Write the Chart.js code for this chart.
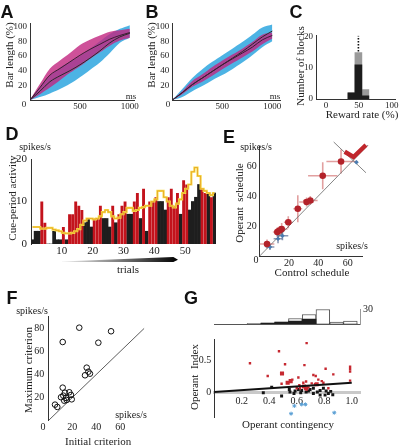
<!DOCTYPE html>
<html>
<head>
<meta charset="utf-8">
<script src="https://cdn.jsdelivr.net/npm/chart.js@4.4.0/dist/chart.umd.min.js"></script>
<style>
  body { margin: 0; background: #fff; }
  #fig { position: relative; width: 401px; height: 446px; overflow: hidden; font-family: 'Liberation Serif', 'Times New Roman', serif; color: #222; }
  #fig canvas { position: absolute; }
  .lbl { position: absolute; white-space: pre; text-align: center; }
  .rot { transform: rotate(-90deg); }
  .pl { font-family: 'Liberation Sans', Arial, sans-serif; font-weight: bold; font-size: 18px; color: #111; }
  .wedge { position: absolute; left: 62px; top: 257px; width: 116px; height: 5px;
    background: linear-gradient(to right, #f2f2f2, #000);
    clip-path: polygon(0 88%, 96% 0, 100% 55%, 96% 100%, 0 100%); }
</style>
</head>
<body>
<div id="fig">
  <canvas id="cA" width="140" height="115" style="left:0;top:0"></canvas>
  <canvas id="cB" width="145" height="115" style="left:140px;top:0"></canvas>
  <canvas id="cC" width="116" height="115" style="left:285px;top:0"></canvas>
  <canvas id="cD" width="220" height="120" style="left:0;top:140px"></canvas>
  <canvas id="cE" width="186" height="140" style="left:215px;top:135px"></canvas>
  <canvas id="cF" width="150" height="146" style="left:0;top:300px"></canvas>
  <canvas id="cGh" width="206" height="33" style="left:195px;top:300px"></canvas>
  <canvas id="cG" width="206" height="100" style="left:195px;top:330px"></canvas>
  <div class="wedge"></div>
</div>
<script>
// ---- A / B: bar length over time (ms) ----
const msX = [0, 100, 200, 300, 400, 500, 600, 700, 800, 900, 1000];
const aMagUp = [0, 22, 43, 54, 64, 75, 82, 88, 93, 95, 97];
const aMagLo = [0, 8, 17, 27, 37, 46, 56, 65, 74, 81, 85];
const aMagMean = [0, 17, 34, 43, 52, 61, 69, 76, 83, 88, 92];
const aBlueUp = [0, 18, 33, 44, 52, 60, 70, 80, 90, 97, 102];
const aBlueLo = [0, 4, 9, 15, 22, 31, 41, 51, 64, 78, 85];
const aBlueMean = [0, 12, 25, 33, 40, 48, 57, 67, 78, 86, 91];

const bBlueUp = [0, 15, 30, 42, 52, 61, 70, 79, 89, 99, 103];
const bBlueLo = [0, 4, 12, 19, 27, 34, 42, 51, 61, 72, 80];
const bMagUp = [0, 12, 26, 35, 45, 54, 62, 70, 79, 89, 92];
const bMagLo = [0, 8, 18, 25, 33, 42, 50, 58, 66, 76, 84];
const bBlueMean = [0, 10, 21, 30, 39, 48, 57, 66, 76, 86, 94];
const bMagMean = [0, 10, 21, 30, 39, 48, 56, 64, 72, 82, 88];

// ---- C: reward rate histogram ----
const cBins = [38.8, 49.4, 60];
const cAll = [2, 15, 3];
const cBlack = [2, 11, 1];
const cDotX = [49.4, 49.4];
const cDotY = [15.3, 20.4];

// ---- D: cue-period activity per trial ----
const dTrial = [1,2,3,4,5,6,7,8,9,10,11,12,13,14,15,16,17,18,19,20,21,22,23,24,25,26,27,28,29,30,
  31,32,33,34,35,36,37,38,39,40,41,42,43,44,45,46,47,48,49,50,51,52,53,54,55,56,57,58,59,60];
const dAct = [1,3,3,10,5,0,0,3,1,1,4,1,7,7,10,9,8,5,6,4,6,6,9,6,6,4,9,5,7,9,
  10,7,7,10,12,6,13,3,10,10,11,10,10,8,11,13,9,12,7,15,14,8,10,11,14,13,12,12,11,12];
const dRewarded = [0,0,0,1,1,0,0,0,0,0,1,0,1,1,1,1,1,0,0,0,1,1,1,0,0,0,1,0,1,1,
  1,0,0,1,1,0,1,0,1,1,1,0,0,0,1,1,1,1,0,1,1,0,0,0,0,1,1,0,1,0];
const dCrit = [4,4,4,3.6,3.6,3.8,3.8,3.4,3.2,3,2.6,2.5,2.5,2.6,3,3.5,4.5,5.5,6,6,5.8,6,6.5,7.5,8,7.5,6.5,6,6.2,7,
  7.5,8.5,8.5,7.8,8,8.5,8.7,9,9,10,10.5,12.5,12.5,11,10,9,8.6,9.5,10.5,12,13,14,17,18,16,13,12.5,12,11.5,12];

// ---- E: operant vs control schedule ----
const eX = [5, 12, 13.5, 15, 19.5, 26, 32, 34.5, 43, 55.5];
const eY = [8, 16, 17, 18, 22.5, 31.5, 36, 37, 53.5, 63];
const eXerr = [5, 3, 3, 4, 3, 3, 5, 5, 10, 10];
const eYerr = [3, 3, 3, 4, 4, 9, 3, 3, 9, 8];
const eBlueX = [7, 12.5, 15.5, 66];
const eBlueY = [6, 11.5, 13.5, 62.5];
const eBlueXerr = [3, 3, 4, 1];
const eBlueYerr = [2, 3, 3, 1];
const eCheckX = [58, 64, 72.5];
const eCheckY = [69.5, 66, 74];
const eIdX = [0, 74];
const eIdY = [0, 74];
const ePerpX = [50.5, 72.5];
const ePerpY = [76, 55.5];

// ---- F: initial vs maximum criterion ----
const fX = [25.8, 52.3, 12, 41.7, 32, 33.4, 30.6, 34.7, 12, 13.9, 17.5, 10.6, 12.5, 14.8, 13.3, 15.3, 18.9, 19.5, 5.6, 7.5];
const fY = [80.5, 77.4, 68.1, 67.5, 45.9, 42.4, 39.3, 40.7, 28.6, 24.2, 24.6, 20.3, 21.7, 19.7, 17.3, 17.9, 22.3, 18.5, 13.9, 11.9];
const fIdX = [0, 80];
const fIdY = [0, 80];

// ---- G: operant index vs contingency ----
const gBin = [0.29, 0.39, 0.49, 0.59, 0.69, 0.79, 0.89, 0.99];
const gHistAll = [1, 2, 4, 11, 19, 29, 4, 6];
const gHistBlack = [0, 2, 4, 6, 10, 0, 0, 0];
const gRedX = [0.672, 0.471, 0.26, 0.515, 0.656, 0.389, 0.81, 0.988, 0.988, 0.988, 0.988, 0.866, 0.721, 0.738, 0.612,
  0.49, 0.568, 0.648, 0.668, 0.757, 0.782, 0.794, 0.709, 0.619, 0.648, 0.685, 0.733, 0.6, 0.624, 0.83, 0.672];
const gRedY = [0.775, 0.647, 0.456, 0.44, 0.426, 0.255, 0.368, 0.4, 0.363, 0.324, 0.181, 0.279, 0.27, 0.255, 0.23,
  0.132, 0.196, 0.147, 0.167, 0.196, 0.172, 0.147, 0.137, 0.108, 0.088, 0.074, 0.123, 0.059, 0.059, 0.059, 0.039];
const gRedBigX = [0.493, 0.534, 0.556, 0.653, 0.668, 0.745];
const gRedBigY = [0.294, 0.147, 0.172, 0.088, 0.059, 0.123];
const gBlackX = [0.357, 0.418, 0.49, 0.546, 0.551, 0.588, 0.612, 0.636, 0.668, 0.697, 0.721, 0.75, 0.77, 0.794,
  0.814, 0.83, 0.847, 0.862, 0.721, 0.77, 0.806, 0.629, 0.58, 0.685];
const gBlackY = [-0.01, 0.074, -0.064, 0.039, 0, 0.015, 0.039, 0.025, 0, 0.039, 0.059, 0, 0.025, 0.059,
  0.015, -0.025, 0.01, -0.044, -0.025, -0.049, -0.049, -0.01, -0.025, 0.015];
const gBlueX = [0.583, 0.636, 0.663, 0.559, 0.873];
const gBlueY = [-0.22, -0.196, -0.196, -0.343, -0.328];
const gFitX = [0, 1.0];
const gFitY = [0, 0.145];

const FONT = "'Liberation Serif', 'Times New Roman', serif";
const BLUE = 'rgba(62, 172, 226, 0.92)';
const MAG = 'rgba(194, 38, 128, 0.8)';

const pts = (xs, ys) => xs.map((x, i) => ({ x: x, y: ys[i] }));

// axis with fixed box size so the plot areas line up with the figure
function ax(o) {
  const a = {
    type: 'linear', min: o.min, max: o.max, offset: false,
    grid: { display: false, drawTicks: false },
    border: { display: o.line !== false, color: o.color || '#333', width: o.bw || 1 },
    ticks: {
      font: { family: FONT, size: o.fs || 9 }, color: '#222',
      padding: o.pad == null ? 2 : o.pad, autoSkip: false, maxRotation: 0,
      callback: o.fmt || (v => String(v))
    },
    afterBuildTicks: s => { s.ticks = (o.ticks || []).map(v => ({ value: v })); },
    afterFit: s => { if (s.isHorizontal()) s.height = o.size; else s.width = o.size; }
  };
  if (o.position) a.position = o.position;
  return a;
}

function opts(pad, scales) {
  return {
    responsive: false, animation: false, events: [],
    layout: { autoPadding: false, padding: pad },
    plugins: { legend: { display: false }, tooltip: { enabled: false } },
    scales: scales
  };
}

function bandSets(xs, m1, m2, u1, l1, u2, l2) {
  const ln = (ys, c) => ({ data: pts(xs, ys), borderColor: c, borderWidth: 1, pointRadius: 0, tension: 0.35, fill: false });
  const edge = (ys, fill, bg) => ({ data: pts(xs, ys), borderColor: 'rgba(0,0,0,0)', borderWidth: 1, pointRadius: 0,
    tension: 0.35, fill: fill, backgroundColor: bg });
  return [ln(m1, '#3a1f33'), ln(m2, '#2a2a2a'), edge(u1, '+1', MAG), edge(l1, false), edge(u2, '+1', BLUE), edge(l2, false)];
}

// error crosses for panel E
const errorBars = {
  id: 'errorBars',
  beforeDatasetsDraw(chart) {
    const ctx = chart.ctx, xs = chart.scales.x, ys = chart.scales.y;
    chart.data.datasets.forEach(ds => {
      if (!ds.errX) return;
      ctx.save();
      ctx.strokeStyle = ds.errColor;
      ctx.lineWidth = 1.6;
      ds.data.forEach((p, i) => {
        const px = xs.getPixelForValue(p.x), py = ys.getPixelForValue(p.y);
        ctx.beginPath();
        ctx.moveTo(xs.getPixelForValue(p.x - ds.errX[i]), py);
        ctx.lineTo(xs.getPixelForValue(p.x + ds.errX[i]), py);
        ctx.moveTo(px, ys.getPixelForValue(p.y - ds.errY[i]));
        ctx.lineTo(px, ys.getPixelForValue(p.y + ds.errY[i]));
        ctx.stroke();
      });
      ctx.restore();
    });
  }
};

// A
new Chart(document.getElementById('cA'), {
  type: 'line',
  data: { datasets: bandSets(msX, aMagMean, aBlueMean, aMagUp, aMagLo, aBlueUp, aBlueLo) },
  options: opts({ top: 23, left: 0, right: 3, bottom: 0 }, {
    x: ax({ min: 0, max: 1050, size: 15, ticks: [500, 1000], pad: 1 }),
    y: ax({ min: 0, max: 105, size: 30, ticks: [20, 40, 60, 80, 100], pad: 3 })
  })
});

// B
new Chart(document.getElementById('cB'), {
  type: 'line',
  data: { datasets: bandSets(msX, bMagMean, bBlueMean, bMagUp, bMagLo, bBlueUp, bBlueLo) },
  options: opts({ top: 23, left: 0, right: 4.7, bottom: 0 }, {
    x: ax({ min: 0, max: 1080, size: 15, ticks: [500, 1000], pad: 1 }),
    y: ax({ min: 0, max: 105, size: 32.3, ticks: [20, 40, 60, 80, 100], pad: 3 })
  })
});

// C
new Chart(document.getElementById('cC'), {
  type: 'bar',
  data: {
    datasets: [
      { type: 'line', data: pts(cDotX, cDotY), borderColor: '#111', borderWidth: 1.6, borderDash: [1.5, 1.5], pointRadius: 0 },
      { data: pts(cBins, cBlack), backgroundColor: '#1c1c1c', grouped: false, barPercentage: 1, categoryPercentage: 1 },
      { data: pts(cBins, cAll), backgroundColor: '#9a9a9a', grouped: false, barPercentage: 1, categoryPercentage: 1 }
    ]
  },
  options: opts({ top: 35.4, left: 0, right: 6, bottom: 0 }, {
    x: ax({ min: -15, max: 105, size: 16, ticks: [0, 50, 100], pad: 1 }),
    y: ax({ min: 0, max: 20.5, size: 31, ticks: [0, 10, 20], pad: 3 })
  })
});

// D
const dX = dTrial.map(t => t - 0.5);
new Chart(document.getElementById('cD'), {
  type: 'bar',
  data: {
    datasets: [
      { type: 'line', data: pts(dX, dCrit), stepped: 'middle', borderColor: '#e59a1c', borderWidth: 0.7, pointRadius: 0 },
      { type: 'line', data: pts(dX, dCrit), stepped: 'middle', borderColor: '#f6dc4a', borderWidth: 2.2, pointRadius: 0 },
      { data: pts(dX, dAct.map((v, i) => dRewarded[i] ? v : null)), backgroundColor: '#c3131c',
        grouped: false, barPercentage: 0.94, categoryPercentage: 1 },
      { data: pts(dX, dAct.map((v, i) => dRewarded[i] ? null : v)), backgroundColor: '#1e1e1e',
        grouped: false, barPercentage: 1, categoryPercentage: 1 }
    ]
  },
  options: opts({ top: 19, left: 0, right: 4, bottom: 0 }, {
    x: ax({ min: 0, max: 60, size: 16, ticks: [10, 20, 30, 40, 50], fs: 11, pad: 1, line: false }),
    y: ax({ min: 0, max: 20, size: 31, ticks: [0, 10, 20], fs: 11, pad: 4 })
  })
});

// E
new Chart(document.getElementById('cE'), {
  type: 'scatter',
  data: {
    datasets: [
      { data: pts(eCheckX, eCheckY), showLine: true, borderColor: '#c0262c', borderWidth: 4.5, pointRadius: 0, clip: false },
      { data: pts(eX, eY), errX: eXerr, errY: eYerr, errColor: 'rgba(214,120,120,0.7)',
        pointRadius: 3.3, backgroundColor: '#b3222a', borderWidth: 0 },
      { data: pts(eBlueX, eBlueY), errX: eBlueXerr, errY: eBlueYerr, errColor: 'rgba(90,110,150,0.7)',
        pointStyle: 'rectRot', pointRadius: 2.3, backgroundColor: '#4a7cb0', borderWidth: 0 },
      { data: pts(eIdX, eIdY), showLine: true, borderColor: '#666', borderWidth: 0.8, pointRadius: 0, clip: false },
      { data: pts(ePerpX, ePerpY), showLine: true, borderColor: '#666', borderWidth: 0.8, pointRadius: 0, clip: false }
    ]
  },
  options: opts({ top: 11.5, left: 0, right: 38.7, bottom: 0 }, {
    x: ax({ min: 0, max: 70, size: 19, ticks: [20, 40, 60], fs: 10, pad: 1 }),
    y: ax({ min: 0, max: 73, size: 44.7, ticks: [20, 40, 60], fs: 10, pad: 3 })
  }),
  plugins: [errorBars]
});

// F
new Chart(document.getElementById('cF'), {
  type: 'scatter',
  data: {
    datasets: [
      { data: pts(fX, fY), pointRadius: 2.8, borderColor: '#111', borderWidth: 1, backgroundColor: 'rgba(0,0,0,0)' },
      { data: pts(fIdX, fIdY), showLine: true, borderColor: '#333', borderWidth: 0.8, pointRadius: 0 }
    ]
  },
  options: opts({ top: 16.7, left: 0, right: 5.7, bottom: 11.3 }, {
    x: ax({ min: 0, max: 80, size: 14, ticks: [20, 40, 60], fs: 10, pad: 1, line: false }),
    y: ax({ min: 0, max: 90, size: 48.3, ticks: [20, 40, 60, 80], fs: 10, pad: 4 })
  })
});

// G histogram
const gy = ax({ min: 0, max: 30, size: 41, ticks: [0, 10, 20, 30], fs: 10, pad: 3, color: '#999',
  fmt: v => (v === 30 ? '30' : '') });
gy.position = 'right';
new Chart(document.getElementById('cGh'), {
  type: 'bar',
  data: {
    datasets: [
      { data: pts(gBin, gHistBlack), backgroundColor: '#1e1e1e', grouped: false, barPercentage: 1, categoryPercentage: 1 },
      { data: pts(gBin, gHistAll), backgroundColor: '#fff', borderColor: '#555', borderWidth: 1,
        grouped: false, barPercentage: 1, categoryPercentage: 1 }
    ]
  },
  options: opts({ top: 6.7, left: 19.2, right: 0, bottom: 0 }, {
    x: ax({ min: 0, max: 1.06, size: 1.3, ticks: [], color: '#555' }),
    y: gy
  })
});

// G scatter
new Chart(document.getElementById('cG'), {
  type: 'scatter',
  data: {
    datasets: [
      { data: pts(gFitX, gFitY), showLine: true, borderColor: '#111', borderWidth: 2, pointRadius: 0 },
      { data: pts(gRedX, gRedY), pointStyle: 'rect', pointRadius: 1.7, backgroundColor: '#c62830', borderWidth: 0 },
      { data: pts(gRedBigX, gRedBigY), pointStyle: 'rect', pointRadius: 2.9, backgroundColor: '#c62830', borderWidth: 0 },
      { data: pts(gBlackX, gBlackY), pointStyle: 'rect', pointRadius: 2.1, backgroundColor: '#151515', borderWidth: 0 },
      { data: pts(gBlueX, gBlueY), pointStyle: 'star', pointRadius: 2, borderColor: '#5a9fd4', borderWidth: 1 }
    ]
  },
  options: opts({ top: 2.9, left: 0, right: 41, bottom: 12.1 }, {
    x: ax({ min: 0, max: 1.06, size: 0, ticks: [0.2, 0.4, 0.6, 0.8, 1.0], fs: 10, pad: 3, fmt: v => v.toFixed(1),
      color: '#c9c9c9', bw: 3, position: { y: 0 } }),
    y: ax({ min: -0.41, max: 0.84, size: 19.2, ticks: [0, 0.5], fs: 10, pad: 3, fmt: v => (v === 0 ? '0' : v.toFixed(1)) })
  })
});

// text labels: [text, centre x, centre y, class, font size]
const labels = [
  ['A', 7, 12, 'pl', 18], ['B', 152, 12, 'pl', 18], ['C', 296, 12, 'pl', 18], ['D', 12, 134, 'pl', 18],
  ['E', 229, 137, 'pl', 18], ['F', 12, 298, 'pl', 18], ['G', 191, 298, 'pl', 18],
  ['Bar length (%)', 9, 55, 'rot', 11], ['ms', 131, 96, '', 9], ['0', 24, 104, '', 9],
  ['Bar length (%)', 151, 55, 'rot', 11], ['ms', 275, 96, '', 9], ['0', 168, 104, '', 9],
  ['Number of blocks', 300, 66, 'rot', 11], ['Reward rate (%)', 362, 114, '', 11],
  ['spikes/s', 35, 147, '', 10], ['Cue-period activity', 12, 198, 'rot', 11], ['trials', 128, 269, '', 11],
  ['spikes/s', 256, 147, '', 10], ['Operant  schedule', 239, 203, 'rot', 11], ['spikes/s', 352, 246, '', 10],
  ['Control schedule', 312, 272, '', 11], ['0', 256, 260, '', 10],
  ['spikes/s', 32, 311, '', 10], ['Maximum criterion', 28, 370, 'rot', 11], ['spikes/s', 131, 415, '', 10],
  ['Initial criterion', 98, 441, '', 11], ['0', 43, 427, '', 10],
  ['Operant  Index', 194, 377, 'rot', 11], ['Operant contingency', 288, 424, '', 11]
];
const fig = document.getElementById('fig');
labels.forEach(([t, x, y, cls, fs]) => {
  // even box sizes keep rotated text on whole pixels
  const lh = fs >= 16 ? 20 : 12;
  const d = document.createElement('div');
  d.className = 'lbl ' + cls;
  d.textContent = t;
  d.style.fontSize = fs + 'px';
  d.style.lineHeight = lh + 'px';
  d.style.height = lh + 'px';
  fig.appendChild(d);
  const w = Math.ceil(d.offsetWidth / 2) * 2;
  d.style.width = w + 'px';
  d.style.left = (x - w / 2) + 'px';
  d.style.top = (y - lh / 2) + 'px';
});
</script>
</body>
</html>
